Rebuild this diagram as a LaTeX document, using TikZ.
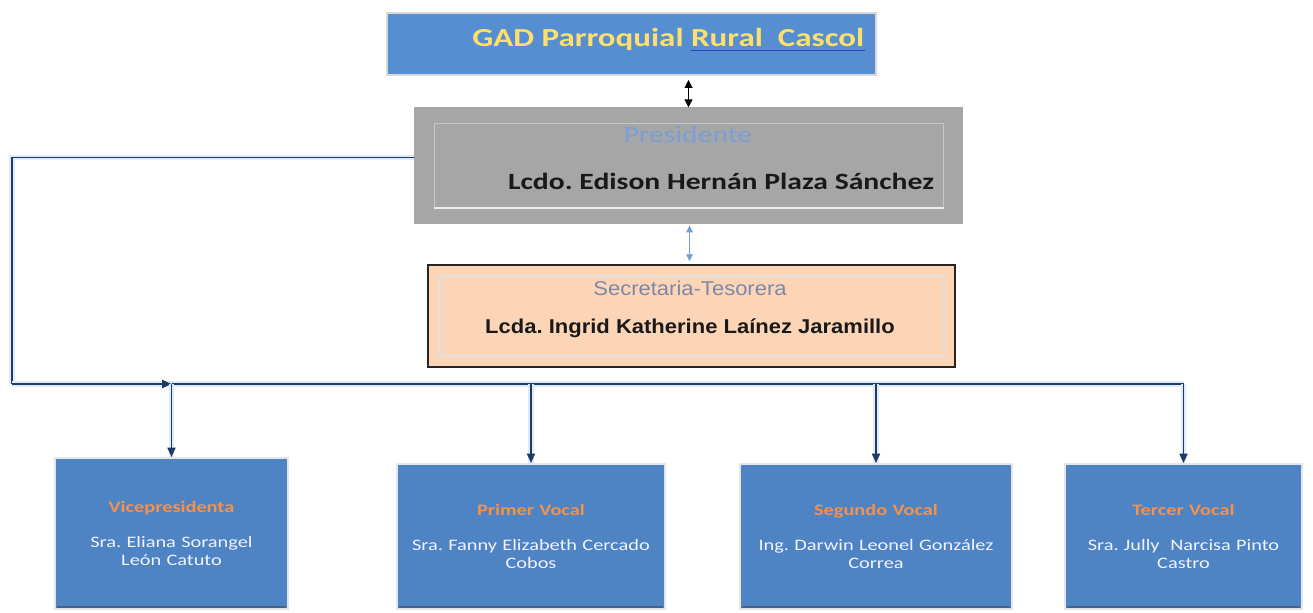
\documentclass[tikz,border=0pt]{standalone}
\usepackage{fontspec}
\setmainfont{Carlito}[FakeStretch=1.27]
\newfontfamily\arialfont{Liberation Sans}[FakeStretch=1.1]
\usetikzlibrary{positioning,arrows.meta,calc}
\frenchspacing

\definecolor{gadblue}{HTML}{568ED2}
\definecolor{gadyellow}{HTML}{FFDF6A}
\definecolor{spellblue}{HTML}{2A3FD0}
\definecolor{presgray}{HTML}{A6A6A6}
\definecolor{prestitle}{HTML}{7A9ED6}
\definecolor{secpeach}{HTML}{FBD5B6}
\definecolor{sectitle}{HTML}{7E88A6}
\definecolor{vocalblue}{HTML}{4F84C4}
\definecolor{vocalorange}{HTML}{F5914A}
\definecolor{linedark}{HTML}{1D3A68}
\definecolor{lineglow}{HTML}{DDEBFA}
\definecolor{arrowblue}{HTML}{6E9FD8}

\begin{document}
\begin{tikzpicture}[x=0.75pt,y=-0.75pt]
\tikzset{
    gadbox/.style={rectangle, fill=gadblue, draw=black!15, line width=1.5pt, minimum width=489*0.75pt, minimum height=62*0.75pt, inner sep=0pt},
    gadtxt/.style={anchor=base west, inner sep=0pt, font=\bfseries\fontsize{19.5}{22}\selectfont, text=gadyellow},
    presbox/.style={rectangle, fill=presgray, draw=black!35, line width=1pt, minimum width=547*0.75pt, minimum height=115*0.75pt, inner sep=0pt},
    secbox/.style={rectangle, fill=secpeach, draw=black!85, line width=1.5pt, minimum width=527*0.75pt, minimum height=102*0.75pt, inner sep=0pt},
    vocal/.style={rectangle, fill=vocalblue, draw=black!10, line width=1.5pt, minimum height=145*0.75pt, inner sep=0pt, align=center, font=\fontsize{12}{14}\selectfont, text=white!95!blue},
    conn/.style={draw=linedark, line width=1.3pt, preaction={draw=lineglow, line width=4pt, -}},
    tip/.style={-{Triangle[length=7pt,width=6pt]}}
}
\fill[white] (0,0) rectangle (1313,613);
\useasboundingbox (0,0) rectangle (1313,613);

% cabecera
\node[gadbox] (gad) at (631.5,44) {};
\node[gadtxt] (gadtext) at (472,47) {GAD Parroquial};
\node[gadtxt] (gadrural) at ($(gadtext.base east)+(7,0)$) {Rural\ \ Cascol};
\draw[spellblue, line width=0.6pt] ($(gadrural.base west)+(0,3)$) -- ($(gadrural.base east)+(0,3)$);

% presidente
\node[presbox] (pres) at (688.5,165.5) {};
\draw[black!22, line width=1pt] ($(pres.north west)+(20,16)$) rectangle ($(pres.south east)+(-19,-16)$);
\draw[white!85!gray, line width=1.5pt] ($(pres.south west)+(20,-16)$) -- ($(pres.south east)+(-19,-16)$);
\node[anchor=base, font=\fontsize{17.5}{20}\selectfont, text=prestitle] (prestit) at (688,143) {Presidente};
\node[anchor=base, font=\bfseries\fontsize{17.5}{20}\selectfont, text=black!90] (presname) at (721,190) {Lcdo. Edison Hernán Plaza Sánchez};

% secretaria
\node[secbox] (sec) at (691.5,316) {};
\draw[black!12, line width=0.8pt] ($(sec.north west)+(12,12)$) rectangle ($(sec.south east)+(-12,-12)$);
\node[anchor=base, font=\arialfont\fontsize{15}{18}\selectfont, text=sectitle] (sectit) at (690,295) {Secretaria-Tesorera};
\node[anchor=base, font=\arialfont\bfseries\fontsize{15}{18}\selectfont, text=black!90] (secname) at (690,333) {Lcda. Ingrid Katherine Laínez Jaramillo};

% vocales
\node[vocal, minimum width=233*0.75pt, minimum height=151*0.75pt, text width=220*0.75pt] (vice) at (171.5,533.5)
    {{\bfseries\color{vocalorange}Vicepresidenta}\\[12pt] Sra. Eliana Sorangel\\León Catuto\\[9pt]};
\node[vocal, minimum width=268*0.75pt, text width=255*0.75pt] (primer) at (531,536.5)
    {{\bfseries\color{vocalorange}Primer Vocal}\\[12pt] Sra. Fanny Elizabeth Cercado\\Cobos\\[9pt]};
\node[vocal, minimum width=272*0.75pt, text width=260*0.75pt] (segundo) at (876,536.5)
    {{\bfseries\color{vocalorange}Segundo Vocal}\\[12pt] Ing. Darwin Leonel González\\Correa\\[9pt]};
\node[vocal, minimum width=237*0.75pt, text width=225*0.75pt] (tercer) at (1183.5,536.5)
    {{\bfseries\color{vocalorange}Tercer Vocal}\\[12pt] Sra. Jully~ Narcisa Pinto\\Castro\\[9pt]};
\foreach \v in {vice,primer,segundo,tercer}
    \draw[linedark!80, line width=1.5pt] ($(\v.south west)+(3,-3)$) -- ($(\v.south east)+(-3,-3)$);

% flechas
\draw[{Triangle[length=6pt,width=6pt]}-{Triangle[length=6pt,width=6pt]}, thick] (gad.south -| pres.north) ++(0,4) -- (pres.north);
\draw[{Triangle[length=5pt,width=5pt]}-{Triangle[length=5pt,width=5pt]}, arrowblue, thick] ($(pres.south)+(1,2)$) -- ($(pres.south |- sec.north)+(1,-3)$);

\coordinate (busL) at (12,384);
\draw[conn] ($(pres.west)+(0,-8)$) -| (busL);
\draw[conn, tip] (busL) -- (vice.north |- busL);
\draw[conn] (vice.north |- busL) -- (tercer.north |- busL);
\foreach \v in {vice,primer,segundo,tercer}
    \draw[conn, tip] (\v.north |- busL) -- (\v.north);
\end{tikzpicture}
\end{document}
